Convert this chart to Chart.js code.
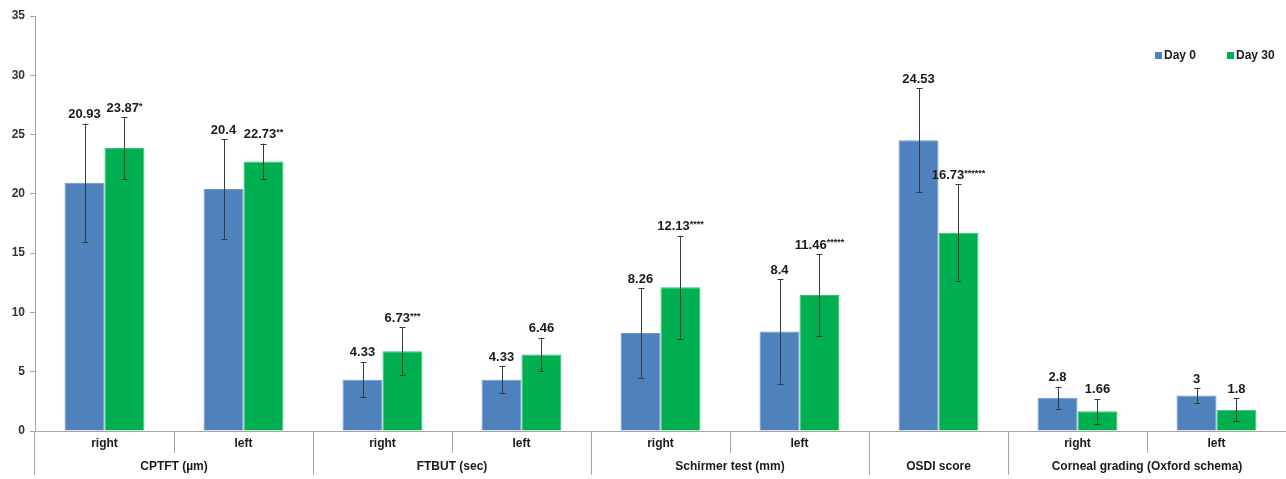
<!DOCTYPE html>
<html>
<head>
<meta charset="utf-8">
<script src="https://cdn.jsdelivr.net/npm/chart.js@4.4.1/dist/chart.umd.min.js"></script>
<style>
    body { margin: 0; background: #fff; }
    #wrap { position: relative; width: 1286px; height: 479px; }
</style>
</head>
<body>
<div id="wrap"><canvas id="myChart"></canvas></div>
<script>
// categories (second row) and groups (third row)
const categories = ['right', 'left', 'right', 'left', 'right', 'left', '', 'right', 'left'];
const groupNames = ['CPTFT (µm)', 'FTBUT (sec)', 'Schirmer test (mm)', 'OSDI score', 'Corneal grading (Oxford schema)'];
const groupSizes = [2, 2, 2, 1, 2];

// series values
const day0 = [20.93, 20.4, 4.33, 4.33, 8.26, 8.4, 24.53, 2.8, 3];
const day30 = [23.87, 22.73, 6.73, 6.46, 12.13, 11.46, 16.73, 1.66, 1.8];

// error bars (+/-)
const day0Err = [5.0, 4.2, 1.5, 1.15, 3.8, 4.4, 4.4, 0.94, 0.63];
const day30Err = [2.6, 1.5, 2.0, 1.4, 4.35, 3.47, 4.1, 1.05, 0.98];

// significance marks after the Day 30 labels
const day0Marks = ['', '', '', '', '', '', '', '', ''];
const day30Marks = ['*', '**', '***', '', '****', '*****', '******', '', ''];

const yTicks = [0, 5, 10, 15, 20, 25, 30, 35];

const lineGray = '#a6a6a6';
const textColor = '#1a1a1a';
const fontFamily = '"Liberation Sans", Arial, sans-serif';

const errorBars = {
    id: 'errorBars',
    afterDatasetsDraw(chart) {
        const ctx = chart.ctx;
        const y = chart.scales.y;
        ctx.save();
        ctx.strokeStyle = '#3a3a3a';
        ctx.lineWidth = 1;
        chart.data.datasets.forEach((ds, i) => {
            const meta = chart.getDatasetMeta(i);
            meta.data.forEach((bar, j) => {
                const v = ds.data[j], e = ds.errors[j];
                const x = Math.round(bar.x) + 0.5;
                const top = y.getPixelForValue(v + e);
                const bot = y.getPixelForValue(v - e);
                ctx.beginPath();
                ctx.moveTo(x, top); ctx.lineTo(x, bot);
                ctx.moveTo(x - 3, Math.round(top) + 0.5); ctx.lineTo(x + 3, Math.round(top) + 0.5);
                ctx.moveTo(x - 3, Math.round(bot) + 0.5); ctx.lineTo(x + 3, Math.round(bot) + 0.5);
                ctx.stroke();
            });
        });
        ctx.restore();
    }
};

const valueLabels = {
    id: 'valueLabels',
    afterDatasetsDraw(chart) {
        const ctx = chart.ctx;
        const y = chart.scales.y;
        ctx.save();
        ctx.fillStyle = textColor;
        ctx.textBaseline = 'middle';
        ctx.textAlign = 'left';
        chart.data.datasets.forEach((ds, i) => {
            const meta = chart.getDatasetMeta(i);
            meta.data.forEach((bar, j) => {
                const v = ds.data[j], e = ds.errors[j];
                const num = String(v);
                const mark = ds.marks[j];
                ctx.font = 'bold 13px ' + fontFamily;
                const w1 = ctx.measureText(num).width;
                ctx.font = 'bold 9px ' + fontFamily;
                const w2 = mark ? ctx.measureText(mark).width : 0;
                const x0 = bar.x - (w1 + w2) / 2;
                const yy = y.getPixelForValue(v + e) - 9;
                ctx.font = 'bold 13px ' + fontFamily;
                ctx.fillText(num, x0, yy);
                if (mark) {
                    ctx.font = 'bold 9px ' + fontFamily;
                    ctx.fillText(mark, x0 + w1, yy - 2);
                }
            });
        });
        ctx.restore();
    }
};

const categoryAxis = {
    id: 'categoryAxis',
    afterDraw(chart) {
        const ctx = chart.ctx;
        const x = chart.scales.x;
        const area = chart.chartArea;
        const half = (x.getPixelForValue(1) - x.getPixelForValue(0)) / 2;
        const base = area.bottom;
        ctx.save();
        ctx.strokeStyle = lineGray;
        ctx.lineWidth = 1;
        // left border of the label table
        ctx.beginPath();
        ctx.moveTo(Math.round(area.left) - 0.5, base);
        ctx.lineTo(Math.round(area.left) - 0.5, base + 44);
        ctx.stroke();

        // group ends
        const ends = [];
        let acc = 0;
        groupSizes.forEach(s => { acc += s; ends.push(acc); });

        for (let i = 1; i < categories.length; i++) {
            const bx = Math.round(x.getPixelForValue(i) - half) + 0.5;
            const long = ends.includes(i);
            ctx.beginPath();
            ctx.moveTo(bx, base);
            ctx.lineTo(bx, base + (long ? 44 : 22));
            ctx.stroke();
        }

        ctx.fillStyle = textColor;
        ctx.textAlign = 'center';
        ctx.textBaseline = 'middle';
        ctx.font = 'bold 12px ' + fontFamily;
        categories.forEach((c, i) => {
            if (c) ctx.fillText(c, x.getPixelForValue(i), base + 13);
        });
        let start = 0;
        groupNames.forEach((g, k) => {
            const end = start + groupSizes[k] - 1;
            const cx = (x.getPixelForValue(start) + x.getPixelForValue(end)) / 2;
            ctx.fillText(g, cx, base + 36);
            start += groupSizes[k];
        });
        ctx.restore();
    }
};

const legendBox = {
    id: 'legendBox',
    afterDraw(chart) {
        const ctx = chart.ctx;
        const positions = [1155, 1227];
        ctx.save();
        ctx.font = 'bold 12px ' + fontFamily;
        ctx.textBaseline = 'middle';
        ctx.textAlign = 'left';
        chart.data.datasets.forEach((ds, i) => {
            const lx = positions[i];
            ctx.fillStyle = ds.backgroundColor;
            ctx.fillRect(lx, 52, 7, 7);
            ctx.fillStyle = textColor;
            ctx.fillText(ds.label, lx + 9, 56);
        });
        ctx.restore();
    }
};

const ctx = document.getElementById('myChart').getContext('2d');
new Chart(ctx, {
    type: 'bar',
    data: {
        labels: categories,
        datasets: [
            {
                label: 'Day 0',
                data: day0,
                errors: day0Err,
                marks: day0Marks,
                backgroundColor: '#4f81bd',
                borderColor: '#6f97c9',
                borderWidth: 1
            },
            {
                label: 'Day 30',
                data: day30,
                errors: day30Err,
                marks: day30Marks,
                backgroundColor: '#00b050',
                borderColor: '#33c070',
                borderWidth: 1
            }
        ]
    },
    options: {
        responsive: true,
        maintainAspectRatio: false,
        animation: false,
        categoryPercentage: 0.575,
        barPercentage: 1,
        layout: { padding: { top: 16, right: 0, left: 0, bottom: 0 } },
        plugins: {
            legend: { display: false },
            tooltip: { enabled: false }
        },
        scales: {
            x: {
                ticks: { display: false },
                grid: { display: false },
                border: { display: true, color: lineGray },
                afterFit: s => { s.height = 48; }
            },
            y: {
                min: 0,
                max: 35,
                afterBuildTicks: s => { s.ticks = yTicks.map(v => ({ value: v })); },
                ticks: {
                    color: '#333',
                    font: { family: fontFamily, size: 12, weight: 'bold' },
                    padding: 5
                },
                grid: { drawOnChartArea: false, drawTicks: true, tickLength: 5, color: lineGray },
                border: { color: lineGray },
                afterFit: s => { s.width = 35; }
            }
        }
    },
    plugins: [errorBars, valueLabels, categoryAxis, legendBox]
});
</script>
</body>
</html>
